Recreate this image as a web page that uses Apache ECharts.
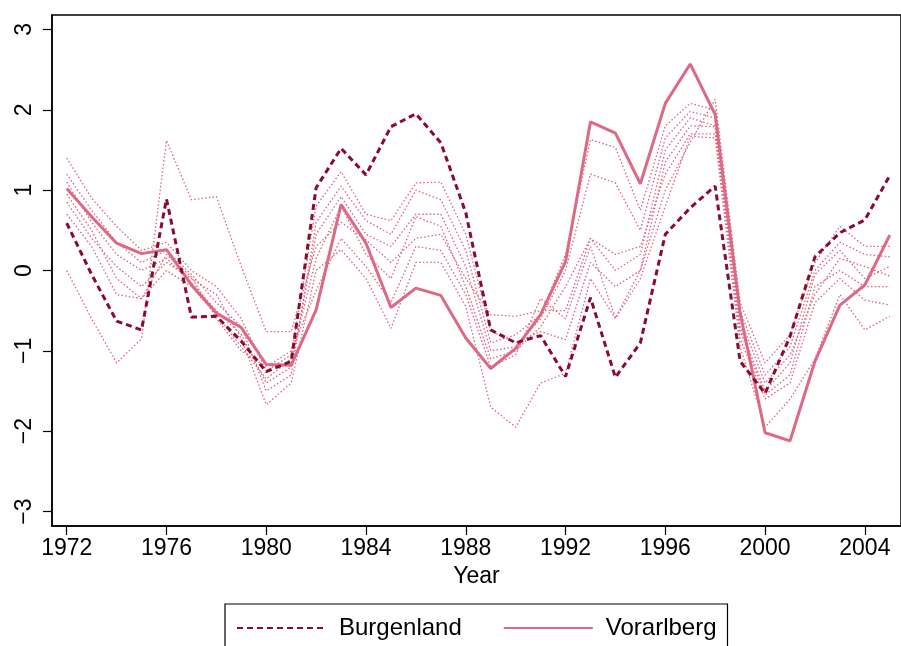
<!DOCTYPE html>
<html><head><meta charset="utf-8">
<script src="https://cdn.jsdelivr.net/npm/echarts@6/dist/echarts.min.js"></script>
<style>html,body{margin:0;padding:0;background:#fff}#c{width:901px;height:646px}</style>
</head><body><div id="c"></div>
<script>
const years = [1972,1973,1974,1975,1976,1977,1978,1979,1980,1981,1982,1983,1984,1985,1986,1987,1988,1989,1990,1991,1992,1993,1994,1995,1996,1997,1998,1999,2000,2001,2002,2003,2004,2005];
const xTicks = [1972,1976,1980,1984,1988,1992,1996,2000,2004];
const yTicks = [-3,-2,-1,0,1,2,3];
const burgenland = [0.59,-0.05,-0.63,-0.74,0.89,-0.58,-0.57,-0.88,-1.26,-1.13,1.03,1.52,1.19,1.79,1.95,1.59,0.72,-0.74,-0.9,-0.81,-1.32,-0.34,-1.33,-0.9,0.45,0.78,1.05,-1.13,-1.53,-0.82,0.17,0.47,0.63,1.18];
const vorarlberg = [1.02,0.67,0.34,0.21,0.26,-0.18,-0.53,-0.71,-1.17,-1.18,-0.49,0.82,0.34,-0.46,-0.22,-0.31,-0.84,-1.22,-0.97,-0.55,0.11,1.85,1.71,1.08,2.08,2.57,1.94,-0.53,-2.02,-2.12,-1.13,-0.43,-0.18,0.44];
const other1 = [0.0,-0.6,-1.15,-0.85,1.62,0.88,0.92,0.05,-0.76,-0.76,0.3,0.6,0.38,0.1,0.4,0.45,-0.1,-0.55,-0.57,-0.5,-0.5,0.4,0.2,0.3,1.2,1.7,1.7,-0.6,-1.4,-1.05,-0.3,0.15,0.05,-0.07];
const other2 = [1.40,0.9,0.55,0.25,0.35,0.0,-0.2,-0.6,-1.25,-1.05,0.8,1.23,0.7,0.62,1.09,1.1,0.45,-0.75,-0.9,-0.76,-0.86,0.1,-0.2,0.0,1.0,1.6,2.13,-0.4,-1.15,-0.8,0.1,0.55,0.3,0.3];
const other3 = [0.85,0.4,0.05,-0.2,0.1,-0.1,-0.3,-0.85,-1.67,-1.4,0.0,0.26,-0.1,-0.72,0.1,0.1,-0.45,-1.7,-1.95,-1.4,-1.28,-0.1,-0.6,-0.1,0.8,1.67,1.65,-0.95,-1.95,-1.6,-1.1,-0.3,-0.74,-0.57];
const other4 = [1.2,0.75,0.35,0.1,0.25,-0.05,-0.4,-0.7,-1.5,-1.3,0.6,1.05,0.62,0.45,1.0,0.88,0.25,-0.9,-0.8,-0.55,0.2,1.63,1.53,0.75,1.8,2.08,2.0,-0.5,-1.3,-0.95,0.0,0.35,0.2,0.17];
const other5 = [1.1,0.6,0.2,0.0,0.15,-0.15,-0.5,-0.8,-1.4,-1.2,0.45,0.92,0.45,0.3,0.7,0.7,0.05,-1.0,-0.95,-0.6,0.0,1.2,1.09,0.5,1.65,1.98,1.9,-0.7,-1.5,-1.15,-0.05,0.25,-0.1,0.05];
const other6 = [0.95,0.5,-0.1,-0.35,0.0,-0.2,-0.55,-0.95,-1.35,-1.1,0.15,0.8,0.2,-0.1,0.67,0.55,-0.2,-1.1,-1.0,-0.7,-0.2,0.4,0.0,0.2,1.5,1.9,1.8,-0.75,-1.55,-1.3,-0.2,0.0,-0.2,-0.2];
const other7 = [0.7,0.3,-0.3,-0.35,0.2,-0.08,-0.6,-1.0,-1.2,-1.0,-0.25,0.4,0.05,-0.4,0.3,0.25,-0.3,-1.2,-1.05,-0.35,-0.6,0.3,-0.59,0.0,1.35,1.8,1.79,-0.85,-1.6,-1.4,-0.4,-0.1,-0.37,-0.43];
const otherNames = ['Kärnten','Niederösterreich','Oberösterreich','Salzburg','Steiermark','Tirol','Wien'];
const others = [other1,other2,other3,other4,other5,other6,other7];

const pair = arr => years.map((y,i)=>[y,arr[i]]);
const FONT = '"Liberation Sans", Arial, sans-serif';
const series = others.map((arr,k)=>({
  name: otherNames[k], type:'line', data: pair(arr), symbol:'none', showSymbol:false, silent:true,
  lineStyle:{color:'#e0607f', width:1.3, type:[1.5,2.2]}, z:1
}));
series.push({name:'Vorarlberg', type:'line', data: pair(vorarlberg), symbol:'none', showSymbol:false,
  itemStyle:{color:'#dc6985'}, lineStyle:{color:'#dc6985', width:3, type:'solid'}, z:3});
series.push({name:'Burgenland', type:'line', data: pair(burgenland), symbol:'none', showSymbol:false,
  itemStyle:{color:'#8a0a30'}, lineStyle:{color:'#8a0a30', width:3, type:[6,4]}, z:4});

const chart = echarts.init(document.getElementById('c'), null, {renderer:'canvas'});
chart.setOption({
  animation:false,
  backgroundColor:'#fff',
  grid:{left:52, top:15, width:851, height:511, show:true, borderColor:'#000', borderWidth:1.5, backgroundColor:'transparent'},
  legend:{data:['Burgenland','Vorarlberg'], left:225, top:604, orient:'horizontal',
    padding:[12,11,14,11], itemGap:41, itemWidth:89, itemHeight:6,
    itemStyle:{opacity:0},
    borderColor:'#000', borderWidth:1.2, textStyle:{fontFamily:FONT, fontSize:24, color:'#000', padding:[0,0,0,8]}},
  xAxis:{type:'value', min:1971.41, max:2005.45,
    name:'Year', nameLocation:'middle', nameGap:37, nameTextStyle:{fontFamily:FONT, fontSize:23, color:'#000'},
    axisLine:{show:true, onZero:false, lineStyle:{color:'#000', width:1.5}},
    axisTick:{show:true, length:9, lineStyle:{color:'#000', width:1.2}, customValues:xTicks},
    axisLabel:{fontFamily:FONT, fontSize:23, color:'#000', margin:11, customValues:xTicks, formatter:v=>String(v)},
    splitLine:{show:false}},
  yAxis:{type:'value', min:-3.18, max:3.18,
    axisLine:{show:true, onZero:false, lineStyle:{color:'#000', width:1.5}},
    axisTick:{show:true, length:9, lineStyle:{color:'#000', width:1.2}, customValues:yTicks},
    axisLabel:{fontFamily:FONT, fontSize:23, color:'#000', margin:16, rotate:90, customValues:yTicks,
      formatter:v=> v<0 ? '\u2212'+Math.abs(v) : String(v)},
    splitLine:{show:false}},
  series: series
});
</script></body></html>
